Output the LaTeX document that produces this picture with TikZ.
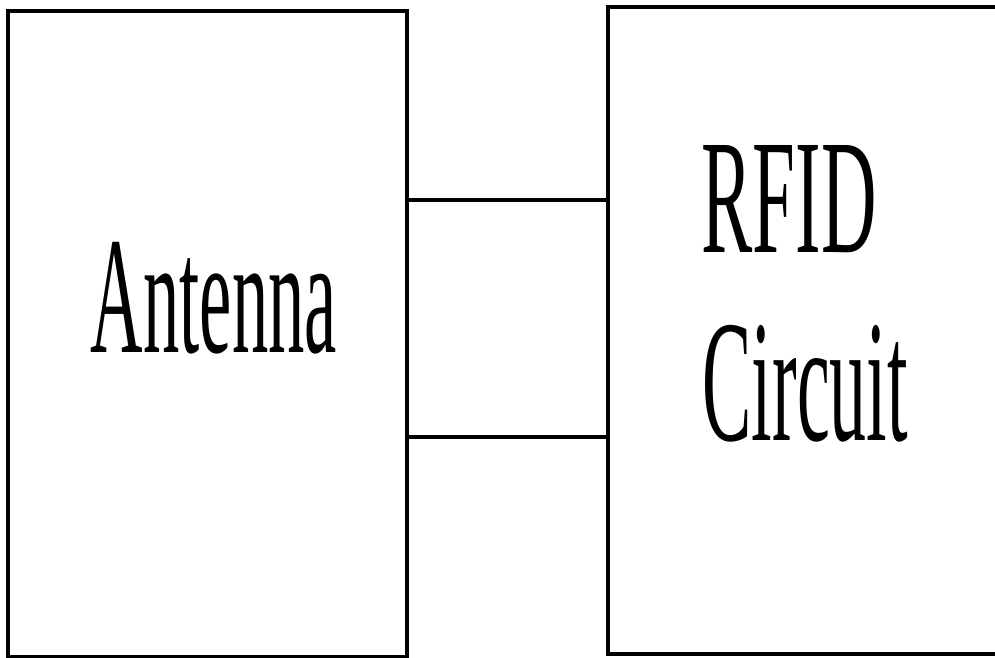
\documentclass[tikz,border=0pt]{standalone}
\usepackage{fontspec}
\setmainfont{Liberation Serif}
\usepackage{tikz}
\usetikzlibrary{positioning}

% narrow tall lettering inside the blocks
\newcommand{\tallword}[2]{\scalebox{#1}[1]{#2}}

\begin{document}
\begin{tikzpicture}[x=0.2mm, y=-0.2mm, line width=1.8pt,
  block/.style={draw, line width=1.8pt, inner sep=0pt, minimum width=#1},
  word/.style={inner sep=0pt, font=\fontsize{#1}{#1}\selectfont}]
\useasboundingbox (0,0) rectangle (995,658);
% the two blocks
\node[block=7.98cm, minimum height=12.92cm] (ant) at (207.5,334) {};
\node[block=7.84cm, minimum height=12.94cm] (chip) at (804,330.5) {};
% labels
\node[word=95, anchor=base] (antlbl) at (214,353) {\tallword{0.435}{Antenna}};
\node[word=93, anchor=base west] (rfid) at (700,253) {\tallword{0.47}{RFID}};
\node[word=99, anchor=base west] (circ) at (701,441) {\tallword{0.425}{Circuit}};
% the two wires
\coordinate (hi) at (0,200);
\coordinate (lo) at (0,437);
\draw (ant.east |- hi) -- (chip.west |- hi);
\draw (ant.east |- lo) -- (chip.west |- lo);
\end{tikzpicture}
\end{document}
